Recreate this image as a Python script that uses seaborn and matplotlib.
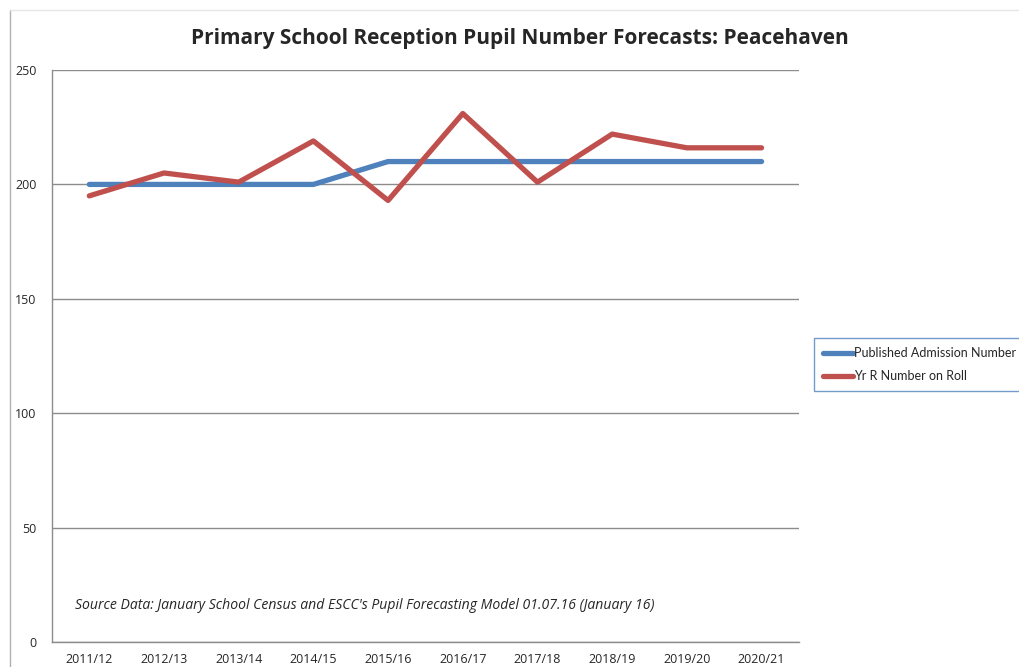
# Primary School Reception Pupil Number Forecasts - Peacehaven
import pandas as pd
import matplotlib.pyplot as plt
import seaborn as sns

# Datos
years = ['2011/12', '2012/13', '2013/14', '2014/15', '2015/16',
         '2016/17', '2017/18', '2018/19', '2019/20', '2020/21']
pan = [200, 200, 200, 200, 210, 210, 210, 210, 210, 210]
roll = [195, 205, 201, 219, 193, 231, 201, 222, 216, 216]
series_names = ['Published Admission Number', 'Yr R Number on Roll']
colors = ['#4F81BD', '#C0504D']

# Tabla larga para seaborn
df = pd.DataFrame({
    'x': list(range(len(years))) * 2,
    'value': pan + roll,
    'serie': [series_names[0]] * len(years) + [series_names[1]] * len(years),
})

sns.set_style('white')
plt.rcParams['font.family'] = ['Open Sans', 'DejaVu Sans']

fig = plt.figure(figsize=(10.19, 6.67), dpi=100)
ax = fig.add_axes([0.051, 0.0375, 0.733, 0.8575])

sns.lineplot(data=df, x='x', y='value', hue='serie', palette=colors,
             linewidth=3.8, ax=ax, legend=False, solid_capstyle='round')

# Ejes
ax.set_xlim(-0.5, len(years) - 0.5)
ax.set_ylim(0, 250)
ax.set_yticks(range(0, 251, 50))
ax.set_xticks(range(len(years)))
ax.set_xticklabels(years)
ax.set_xticks([i - 0.5 for i in range(len(years) + 1)], minor=True)
ax.tick_params(axis='x', which='major', length=0, labelsize=9, pad=8)
ax.tick_params(axis='x', which='minor', length=4, color='#888888', direction='out')
ax.tick_params(axis='y', length=5, color='#888888', direction='out', labelsize=9, pad=6)
ax.set_xlabel('')
ax.set_ylabel('')
ax.yaxis.grid(True, color='#8c8c8c', linewidth=1)
for s in ['top', 'right']:
    ax.spines[s].set_visible(False)
for s in ['left', 'bottom']:
    ax.spines[s].set_color('#8c8c8c')
    ax.spines[s].set_linewidth(1)

# Titulo
fig.text(0.51, 0.943, 'Primary School Reception Pupil Number Forecasts: Peacehaven',
         ha='center', va='center', fontsize=15, fontweight='bold')

# Fuente de datos
ax.text(0.031, 0.063,
        "Source Data: January School Census and ESCC's Pupil Forecasting Model 01.07.16 (January 16)",
        transform=ax.transAxes, fontsize=10.1, style='italic', va='center')

# Leyenda
handles = [plt.Line2D([], [], color=c, linewidth=3.8) for c in colors]
leg = fig.legend(handles, series_names, loc='center left',
                 bbox_to_anchor=(0.799, 0.453), frameon=True,
                 prop={'family': ['Lato', 'DejaVu Sans'], 'size': 9},
                 fancybox=False, handlelength=2.4, handletextpad=0.05,
                 borderpad=0.7, borderaxespad=0, labelspacing=0.9)
leg.get_frame().set_edgecolor('#4F81BD')
leg.get_frame().set_linewidth(1)

# Borde del grafico
fig.add_artist(plt.Line2D([0.01, 0.01], [0, 0.985], color='#b0b0b0', linewidth=1))
fig.add_artist(plt.Line2D([0.01, 1.0], [0.985, 0.985], color='#e6e6e6', linewidth=1))

plt.savefig('out.png', dpi=100)
